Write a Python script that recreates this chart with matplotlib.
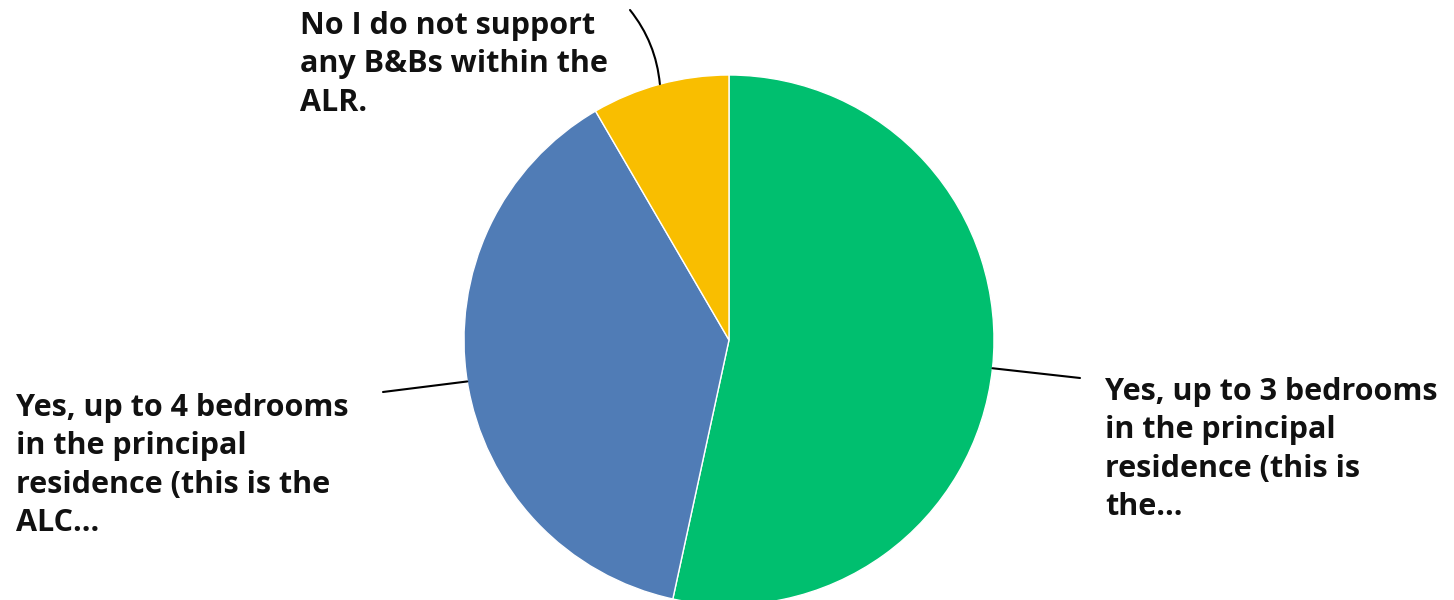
import matplotlib.pyplot as plt
import numpy as np

plt.rcParams["font.family"] = ["Open Sans", "DejaVu Sans"]

labels = [
    "Yes, up to 3 bedrooms\nin the principal\nresidence (this is\nthe...",
    "Yes, up to 4 bedrooms\nin the principal\nresidence (this is the\nALC...",
    "No I do not support\nany B&Bs within the\nALR.",
]
shares = [53.4, 38.2, 8.4]
colors = ["#00bf6f", "#507cb6", "#f9be00"]

# layout in pixel units (y up)
W, H = 1454, 600
CX, CY, R = 729, 260, 265
text_pos = [(1105, 223), (16, 207), (300, 589)]
elbow = [(1080, 222), (383, 208), (630, 590)]
rads = [0.0, 0.0, -0.15]

fig = plt.figure(figsize=(W / 100, H / 100), dpi=100)
ax = fig.add_axes([0, 0, 1, 1])

wedges, _ = ax.pie(
    shares,
    colors=colors,
    startangle=90,
    counterclock=False,
    center=(CX, CY),
    radius=R,
    wedgeprops=dict(linewidth=1, edgecolor="white"),
    frame=True,
)
ax.set_xlim(0, W)
ax.set_ylim(0, H)
ax.set_aspect("equal")
ax.axis("off")

for w, lab, tp, el, rad in zip(wedges, labels, text_pos, elbow, rads):
    mid = np.deg2rad((w.theta1 + w.theta2) / 2)
    px, py = CX + R * np.cos(mid), CY + R * np.sin(mid)
    ax.annotate(
        "",
        xy=(px, py),
        xytext=el,
        arrowprops=dict(arrowstyle="-", color="black", lw=1.5,
                        connectionstyle=f"arc3,rad={rad}",
                        shrinkA=0, shrinkB=0),
    )
    ax.text(tp[0], tp[1], lab, ha="left", va="top", fontsize=22,
            fontweight="bold", color="#111111", linespacing=1.36)

fig.savefig("out.png", dpi=100)
